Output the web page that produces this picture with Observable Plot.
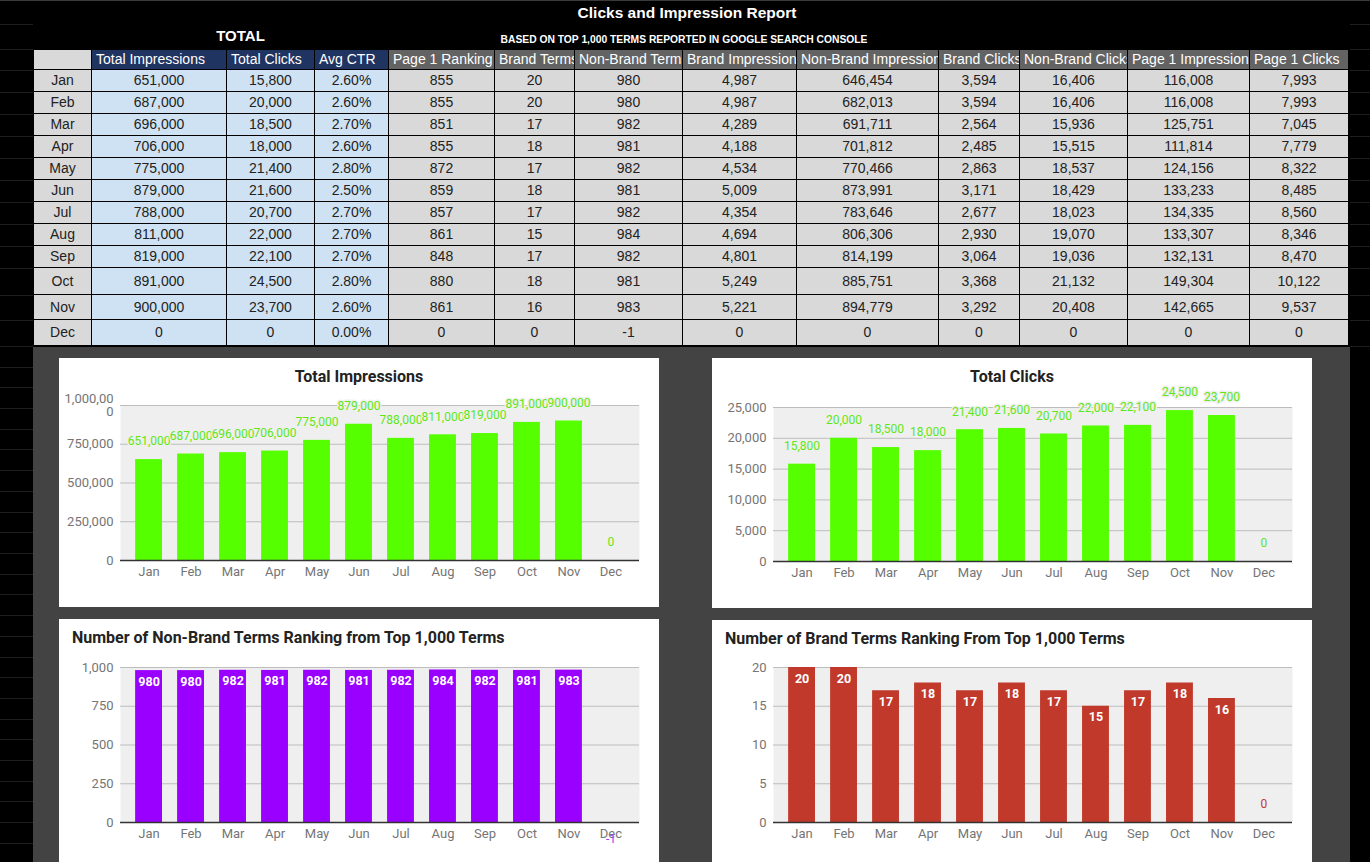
<!DOCTYPE html>
<html><head><meta charset="utf-8">
<script src="https://cdn.jsdelivr.net/npm/d3@7"></script>
<script src="https://cdn.jsdelivr.net/npm/@observablehq/plot@0.6"></script>
<style>
html,body{margin:0;padding:0;background:#000;}
#page{position:relative;width:1370px;height:862px;overflow:hidden;background:#000;font-family:"Liberation Sans",Arial,sans-serif;}
.abs{position:absolute;}
.cell{position:absolute;box-sizing:border-box;padding:0 3px;border-right:1px solid #000;border-bottom:1px solid #000;overflow:hidden;white-space:nowrap;text-align:center;font-size:14px;color:#222;}
.hcell{text-align:left;padding:0 0 0 4px;}
.card{position:absolute;background:#fff;overflow:hidden;}
.ctitle{position:absolute;font-family:Roboto,sans-serif;font-weight:bold;font-size:16px;color:#222;white-space:nowrap;line-height:20px;}
.card svg{position:absolute;left:0;top:0;}
</style></head><body><div id="page"></div>
<script>
// ---------- data ----------
const months = ["Jan","Feb","Mar","Apr","May","Jun","Jul","Aug","Sep","Oct","Nov","Dec"];
const headers = ["Total Impressions","Total Clicks","Avg CTR","Page 1 Ranking","Brand Terms","Non-Brand Terms","Brand Impressions","Non-Brand Impressions","Brand Clicks","Non-Brand Clicks","Page 1 Impressions","Page 1 Clicks"];
const totalImpressions = [651000,687000,696000,706000,775000,879000,788000,811000,819000,891000,900000,0];
const totalClicks = [15800,20000,18500,18000,21400,21600,20700,22000,22100,24500,23700,0];
const avgCTR = [2.60,2.60,2.70,2.60,2.80,2.50,2.70,2.70,2.70,2.80,2.60,0.00];
const page1Ranking = [855,855,851,855,872,859,857,861,848,880,861,0];
const brandTerms = [20,20,17,18,17,18,17,15,17,18,16,0];
const nonBrandTerms = [980,980,982,981,982,981,982,984,982,981,983,-1];
const brandImpressions = [4987,4987,4289,4188,4534,5009,4354,4694,4801,5249,5221,0];
const nonBrandImpressions = [646454,682013,691711,701812,770466,873991,783646,806306,814199,885751,894779,0];
const brandClicks = [3594,3594,2564,2485,2863,3171,2677,2930,3064,3368,3292,0];
const nonBrandClicks = [16406,16406,15936,15515,18537,18429,18023,19070,19036,21132,20408,0];
const page1Impressions = [116008,116008,125751,111814,124156,133233,134335,133307,132131,149304,142665,0];
const page1Clicks = [7993,7993,7045,7779,8322,8485,8560,8346,8470,10122,9537,0];

const impressionTicks = [0,250000,500000,750000,1000000];
const clickTicks = [0,5000,10000,15000,20000,25000];
const nonBrandTicks = [0,250,500,750,1000];
const brandTicks = [0,5,10,15,20];

// ---------- layout ----------
const page = document.getElementById("page");
const comma = d3.format(",");
const fmt = d => comma(d).replace("\u2212", "-");
function el(tag, cls, style, text){
  const e = document.createElement(tag);
  if (cls) e.className = cls;
  Object.assign(e.style, style);
  if (text != null) e.textContent = text;
  page.appendChild(e);
  return e;
}

// top line & dark panel behind the charts
el("div","abs",{left:"0px",top:"0px",width:"1370px",height:"1px",background:"#3a3a3a"});
el("div","abs",{left:"33px",top:"347px",width:"1317px",height:"515px",background:"#434343"});

const colWidths = [59,135,88,74,106,80,108,114,142,81,108,122,99];
const rowHeights = [21,22,22,22,22,22,22,22,22,22,27,25,26];
const tableLeft = 33, tableTop = 49;

// faint gridlines in the black margins
{
  let y = tableTop;
  const ys = [24, y];
  rowHeights.forEach(h => { y += h; ys.push(y); });
  for (let yy = y + 20.7; yy < 862; yy += 20.7) ys.push(Math.round(yy));
  ys.forEach(yy => {
    el("div","abs",{left:"0px",top:yy+"px",width:"33px",height:"1px",background:"#1e1e1e"});
    if (yy <= y) el("div","abs",{left:"1350px",top:yy+"px",width:"20px",height:"1px",background:"#1e1e1e"});
  });
}

// titles
el("div","abs",{left:"0px",top:"2px",width:"1374px",textAlign:"center",color:"#fff",fontWeight:"bold",fontSize:"15.5px",lineHeight:"21px"},"Clicks and Impression Report");
el("div","abs",{left:"92px",top:"26px",width:"297px",textAlign:"center",color:"#fff",fontWeight:"bold",fontSize:"15px",lineHeight:"20px"},"TOTAL");
el("div","abs",{left:"384px",top:"34px",width:"600px",textAlign:"center",color:"#fff",fontWeight:"bold",fontSize:"10.3px",lineHeight:"12px"},"BASED ON TOP 1,000 TERMS REPORTED IN GOOGLE SEARCH CONSOLE");

// table
const pct = d => d.toFixed(2) + "%";
const columns = [
  {values: totalImpressions, f: fmt, total: true},
  {values: totalClicks, f: fmt, total: true},
  {values: avgCTR, f: pct, total: true},
  {values: page1Ranking, f: fmt},
  {values: brandTerms, f: fmt},
  {values: nonBrandTerms, f: fmt},
  {values: brandImpressions, f: fmt},
  {values: nonBrandImpressions, f: fmt},
  {values: brandClicks, f: fmt},
  {values: nonBrandClicks, f: fmt},
  {values: page1Impressions, f: fmt},
  {values: page1Clicks, f: fmt}
];
{
  let y = tableTop;
  rowHeights.forEach((h, r) => {
    let x = tableLeft;
    colWidths.forEach((w, c) => {
      let text, bg, color = "#222", cls = "cell";
      if (r === 0) {
        if (c === 0) { text = ""; bg = "#d9d9d9"; }
        else { text = headers[c-1]; bg = columns[c-1].total ? "#1f3461" : "#636363"; color = "#fff"; cls = "cell hcell"; }
      } else {
        if (c === 0) { text = months[r-1]; bg = "#d9d9d9"; }
        else { const col = columns[c-1]; text = col.f(col.values[r-1]); bg = col.total ? "#cfe2f3" : "#d9d9d9"; }
      }
      const st = {left:x+"px", top:y+"px", width:w+"px", height:h+"px", lineHeight:(h-1)+"px", background:bg, color};
      if (c === 0) { st.borderLeft = "1px solid #000"; }
      if (r === 0) { st.borderTop = "1px solid #000"; st.lineHeight = (h-2)+"px"; }
      el("div",cls,st,text);
      x += w;
    });
    y += h;
  });
}

// ---------- charts ----------
function barChart(values, o){
  const data = months.map((m,i) => ({month: m, value: values[i]}));
  const marks = [
    Plot.frame({fill: "#efefef", stroke: "none"}),
    Plot.gridY(o.ticks, {stroke: "#bdbdbd", strokeOpacity: 1}),
    Plot.barY(data, {x: "month", y: "value", fill: o.fill}),
    Plot.ruleY([0], {stroke: "#333", strokeWidth: 1.5})
  ];
  if (o.labels === "above") {
    marks.push(Plot.text(data, {x: "month", y: "value", text: d => fmt(d.value), dy: -18,
      fill: o.labelFill, stroke: "#efefef", strokeWidth: 3, fontSize: 12}));
  } else {
    marks.push(Plot.text(data, {filter: d => d.value > 0, x: "month", y: "value", text: d => fmt(d.value), dy: 11,
      fill: "#fff", fontWeight: "bold", fontSize: 12.5}));
    marks.push(Plot.text(data, {filter: d => d.value === 0, x: "month", y: "value", text: d => fmt(d.value), dy: -18,
      fill: o.labelFill, fontSize: 12}));
    marks.push(Plot.text(data, {filter: d => d.value < 0, x: "month", y: "value", text: d => fmt(d.value), dy: 17,
      fill: o.labelFill, fontSize: 12}));
  }
  return Plot.plot({
    width: 600, height: 250,
    marginLeft: 61, marginRight: 20, marginTop: o.mt, marginBottom: 250 - o.base,
    style: {background: "transparent", fontFamily: "Roboto, sans-serif", fontSize: "13px", color: "#757575", overflow: "visible"},
    x: {domain: months, padding: 0.36, round: false, label: null, tickSize: 0, tickPadding: 6},
    y: {domain: o.domain, ticks: o.ticks, tickFormat: o.tickFormat || fmt, label: null, tickSize: 0, tickPadding: 7},
    marks
  });
}

function card(left, top, h, title, centered, svg){
  const c = el("div","card",{left:left+"px", top:top+"px", width:"600px", height:h+"px"});
  c.appendChild(svg);
  const t = document.createElement("div");
  t.className = "ctitle";
  t.textContent = title;
  Object.assign(t.style, centered ? {left:"0px", width:"600px", textAlign:"center", top:"9px"} : {left:"13px", top:"9px"});
  c.appendChild(t);
}

card(59, 358, 249, "Total Impressions", true, barChart(totalImpressions, {
  ticks: impressionTicks, domain: [0, 1000000], mt: 47, base: 202,
  tickFormat: d => d === 1000000 ? "1,000,00\n0" : fmt(d),
  fill: "#55ff00", labelFill: "#5fe617", labels: "above"}));

card(712, 358, 250, "Total Clicks", true, barChart(totalClicks, {
  ticks: clickTicks, domain: [0, 25000], mt: 49, base: 203,
  fill: "#55ff00", labelFill: "#5fe617", labels: "above"}));

card(59, 619, 250, "Number of Non-Brand Terms Ranking from Top 1,000 Terms", false, barChart(nonBrandTerms, {
  ticks: nonBrandTicks, domain: [0, 1000], mt: 48, base: 203,
  fill: "#9900ff", labelFill: "#9b3cf0", labels: "inside"}));

card(712, 620, 250, "Number of Brand Terms Ranking From Top 1,000 Terms", false, barChart(brandTerms, {
  ticks: brandTicks, domain: [0, 20], mt: 47, base: 202,
  fill: "#c0392b", labelFill: "#c0392b", labels: "inside"}));
</script>
</body></html>
